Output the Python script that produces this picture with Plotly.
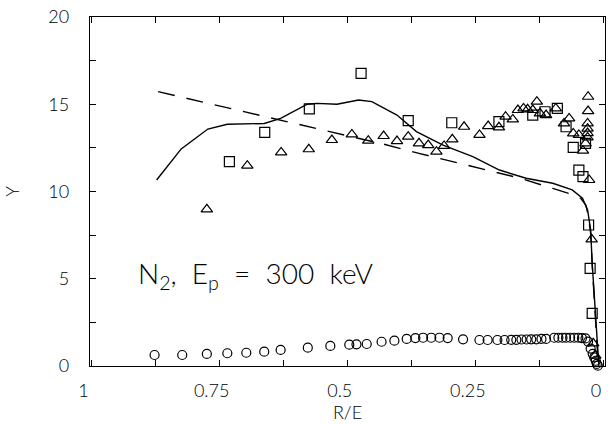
import plotly.graph_objects as go

# ---- data ----
solid_x = [0.873, 0.825, 0.773, 0.735, 0.663, 0.631, 0.579, 0.560, 0.521, 0.479, 0.453, 0.404,
           0.366, 0.314, 0.256, 0.204, 0.152, 0.100, 0.062, 0.042, 0.032, 0.026, 0.023, 0.019,
           0.015, 0.012, 0.010]
solid_y = [10.66, 12.44, 13.58, 13.85, 13.90, 14.19, 15.00, 15.05, 15.00, 15.24, 15.15, 14.38,
           13.43, 12.66, 12.00, 11.23, 10.76, 10.47, 10.09, 9.61, 8.94, 7.80, 5.89, 3.97,
           1.80, 0.60, 0.00]

dash_x = [0.870, 0.563, 0.431, 0.363, 0.295, 0.230, 0.165, 0.100, 0.065, 0.045, 0.035, 0.030,
          0.026, 0.023, 0.019, 0.015, 0.011]
dash_y = [15.72, 13.60, 12.72, 12.20, 11.70, 11.23, 10.77, 10.18, 9.86, 9.60, 9.20, 8.50,
          7.60, 5.80, 3.90, 1.70, 0.00]

tri_x = [0.775, 0.696, 0.630, 0.576, 0.531, 0.492, 0.460, 0.430, 0.404, 0.382, 0.361, 0.343,
         0.327, 0.312, 0.296, 0.273, 0.243, 0.226, 0.205, 0.192, 0.178, 0.168, 0.157, 0.149,
         0.139, 0.131, 0.125, 0.113, 0.094, 0.078, 0.068, 0.060, 0.049, 0.041, 0.036, 0.031,
         0.031, 0.032, 0.032, 0.032, 0.032, 0.029, 0.024, 0.021, 0.017]
tri_y = [8.98, 11.48, 12.24, 12.42, 12.95, 13.27, 12.91, 13.18, 12.89, 13.14, 12.76, 12.66,
         12.28, 12.61, 12.99, 13.71, 13.24, 13.75, 13.68, 14.29, 14.13, 14.67, 14.76, 14.71,
         14.67, 15.15, 14.48, 14.38, 14.76, 13.90, 14.19, 13.33, 13.24, 12.34, 12.76, 15.43,
         14.61, 13.90, 13.60, 13.35, 13.10, 10.66, 7.26, 1.30, 0.60]

sq_x = [0.731, 0.662, 0.575, 0.474, 0.382, 0.297, 0.205, 0.139, 0.115, 0.091, 0.074, 0.060,
        0.049, 0.041, 0.036, 0.030, 0.027, 0.023]
sq_y = [11.71, 13.39, 14.73, 16.77, 14.06, 13.94, 14.00, 14.38, 14.57, 14.76, 13.71, 12.53,
        11.23, 10.85, 12.76, 8.08, 5.60, 3.02]

circ_x = [0.877, 0.823, 0.775, 0.735, 0.698, 0.663, 0.631, 0.578, 0.534, 0.497, 0.483, 0.463,
          0.434, 0.409, 0.385, 0.368, 0.353, 0.337, 0.321, 0.305, 0.275, 0.243, 0.227, 0.208,
          0.194, 0.181, 0.171, 0.161, 0.151, 0.142, 0.132, 0.122, 0.113, 0.097, 0.089, 0.081,
          0.074, 0.066, 0.058, 0.050, 0.043, 0.036, 0.031, 0.026, 0.022, 0.019, 0.016, 0.014,
          0.012, 0.010]
circ_y = [0.63, 0.63, 0.69, 0.73, 0.76, 0.82, 0.92, 1.05, 1.15, 1.22, 1.24, 1.26,
          1.39, 1.45, 1.55, 1.60, 1.62, 1.62, 1.62, 1.60, 1.53, 1.49, 1.49, 1.49,
          1.49, 1.50, 1.50, 1.52, 1.52, 1.53, 1.53, 1.55, 1.55, 1.62, 1.62, 1.62,
          1.62, 1.62, 1.62, 1.62, 1.60, 1.58, 1.40, 1.00, 0.70, 0.50, 0.30, 0.12,
          0.02, -0.05]

x_ticks = [1, 0.75, 0.5, 0.25, 0]
x_labels = ["1", "0.75", "0.5", "0.25", "0"]
y_ticks = [0, 5, 10, 15, 20]
y_labels = ["0", "5", "10", "15", "20"]

FONT = "Lato"
fig = go.Figure()

fig.add_trace(go.Scatter(x=solid_x, y=solid_y, mode="lines",
                         line=dict(color="black", width=1.4), cliponaxis=False))
fig.add_trace(go.Scatter(x=dash_x, y=dash_y, mode="lines",
                         line=dict(color="black", width=1.4, dash="17px,12px"), cliponaxis=False))
fig.add_trace(go.Scatter(x=tri_x, y=tri_y, mode="markers", cliponaxis=False,
                         marker=dict(symbol="triangle-up-open", size=10, color="black",
                                     line=dict(width=1.2, color="black"))))
fig.add_trace(go.Scatter(x=sq_x, y=sq_y, mode="markers", cliponaxis=False,
                         marker=dict(symbol="square-open", size=10, color="black",
                                     line=dict(width=1.2, color="black"))))
fig.add_trace(go.Scatter(x=circ_x, y=circ_y, mode="markers", cliponaxis=False,
                         marker=dict(symbol="circle-open", size=9, color="black",
                                     line=dict(width=1.2, color="black"))))

fig.add_annotation(x=0.913, y=5.2, xref="x", yref="y", xanchor="left", yanchor="middle",
                   text="N<sub>2</sub>,  E<sub>p</sub>  =  300  keV", showarrow=False,
                   font=dict(family=FONT, size=28, color="black", weight=300))

tickfont = dict(family=FONT, size=18, color="black", weight=300)
axis_common = dict(showline=True, linecolor="black", linewidth=1.3, mirror="ticks",
                   ticks="inside", ticklen=6, tickwidth=1.1, tickcolor="black",
                   showgrid=False, zeroline=False, tickfont=tickfont)

fig.update_xaxes(range=[1.003, -0.002], tickvals=x_ticks, ticktext=x_labels,
                 minor=dict(dtick=0.125, tick0=0, ticks="inside", ticklen=6, tickwidth=1.1,
                            tickcolor="black"),
                 ticklabelshift=8, ticklabelstandoff=8,
                 title=dict(text="R/E", font=tickfont, standoff=4),
                 **axis_common)
fig.update_yaxes(range=[0, 20], tickvals=y_ticks, ticktext=y_labels,
                 minor=dict(dtick=2.5, tick0=0, ticks="inside", ticklen=6, tickwidth=1.1,
                            tickcolor="black"),
                 ticklabelstandoff=16,
                 title=dict(text="Y", font=tickfont, standoff=24),
                 **axis_common)

fig.update_layout(width=610, height=424, margin=dict(l=90, r=5, t=17, b=58),
                  paper_bgcolor="white", plot_bgcolor="white", showlegend=False)

fig.write_html("out.html")
